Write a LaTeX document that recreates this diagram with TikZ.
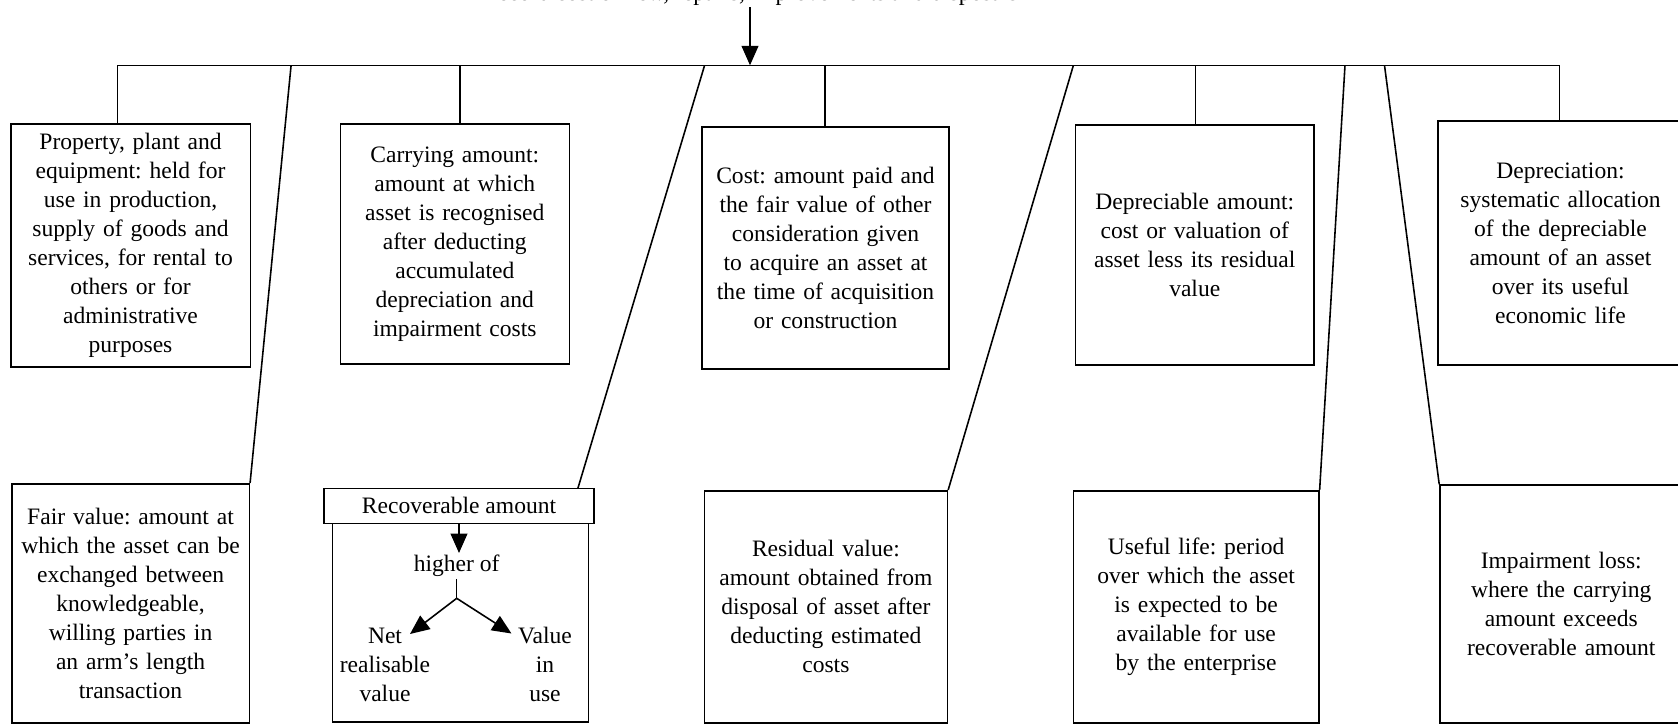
\documentclass[tikz,border=0pt]{standalone}
\usepackage{fontspec}
\setmainfont{Liberation Serif}
\usepackage{tikz}
\usetikzlibrary{arrows.meta, positioning}
\frenchspacing
\def\txt{\fontsize{13.4}{16.5}\selectfont}
\tikzstyle{defn} = [rectangle, draw=black, line width=0.9pt, align=center, inner xsep=0.1cm, inner ysep=0pt, font=\txt]
\tikzstyle{tag} = [rectangle, draw=black, line width=0.9pt, fill=white, inner sep=0pt, font=\txt]
\tikzstyle{word} = [align=center, inner sep=1pt, font=\txt]
\tikzstyle{link} = [line width=0.9pt]
\tikzstyle{down} = [line width=0.9pt, -{Triangle[length=11pt,width=9.5pt]}]

\begin{document}
\begin{tikzpicture}
  \useasboundingbox (0,0) rectangle (33.56,-14.48);

  % heading and the rail under it
  \node (title) [word, anchor=base] at (15.0,0) {Record cost of new, repairs, improvements and disposals};
  \coordinate (railL) at (2.354,-1.306);
  \coordinate (railR) at (31.186,-1.306);
  \draw [link] (railL) -- (railR);
  \draw [down] (title.south) -- (title.south |- railL);

  % upper row
  \node (ppe) [defn, text width=4.59cm, minimum height=4.86cm] at (2.611,-4.91) {Property, plant and\\equipment: held for\\use in production,\\supply of goods and\\services, for rental to\\others or for\\administrative\\purposes};
  \node (carry) [defn, text width=4.38cm, minimum height=4.8cm] at (9.096,-4.88) {Carrying amount:\\amount at which\\asset is recognised\\after deducting\\accumulated\\depreciation and\\impairment costs};
  \node (cost) [defn, text width=4.74cm, minimum height=4.84cm] at (16.51,-4.96) {Cost: amount paid and\\the fair value of other\\consideration given\\to acquire an asset at\\the time of acquisition\\or construction};
  \node (depamt) [defn, text width=4.57cm, minimum height=4.8cm] at (23.895,-4.90) {Depreciable amount:\\cost or valuation of\\asset less its residual\\value};
  \node (deprec) [defn, text width=4.7cm, minimum height=4.88cm] at (31.21,-4.86) {Depreciation:\\systematic allocation\\of the depreciable\\amount of an asset\\over its useful\\economic life};

  \foreach \s/\b in {2.354/ppe, 9.204/carry, 16.50/cost, 23.91/depamt, 31.186/deprec}{
    \coordinate (s\b) at (\s,-1.306);
    \draw [link] (s\b) -- (s\b |- \b.north);
  }

  % lower row
  \node (fair) [defn, text width=4.55cm, minimum height=4.79cm] at (2.611,-12.07) {Fair value: amount at\\which the asset can be\\exchanged between\\knowledgeable,\\willing parties in\\an arm's length\\transaction};
  \node (resid) [defn, text width=4.66cm, minimum height=4.646cm] at (16.518,-12.137) {Residual value:\\amount obtained from\\disposal of asset after\\deducting estimated\\costs};
  \node (useful) [defn, text width=4.71cm, minimum height=4.646cm] at (23.922,-12.137) {Useful life: period\\over which the asset\\is expected to be\\available for use\\by the enterprise};
  \node (impair) [defn, text width=4.65cm, minimum height=4.76cm] at (31.225,-12.08) {Impairment loss:\\where the carrying\\amount exceeds\\recoverable amount};

  % recoverable amount block
  \node (recbox) [defn, minimum width=5.12cm, minimum height=3.974cm] at (9.21,-12.453) {};
  \node (rechead) [tag, minimum width=5.4cm, minimum height=0.70cm] at (9.18,-10.116) {Recoverable amount};
  \node (higher) [word, anchor=base] at (9.134,-11.434) {higher of};
  \coordinate (fork) at (9.134,-11.966);
  \node (nrv) [word, anchor=base] at (7.70,-14.03) {Net\\realisable\\value};
  \node (viu) [word, anchor=base] at (10.9,-14.03) {Value\\in\\use};
  \coordinate (nrvtip) at (8.2,-12.68);
  \coordinate (viutip) at (10.23,-12.67);
  \draw [down] (rechead.south) -- (rechead.south |- higher.north);
  \draw [link] (higher.south) -- (fork);
  \draw [down] (fork) -- (nrvtip);
  \draw [down] (fork) -- (viutip);

  % slanted feeders down to the lower row
  \coordinate (t1) at (5.822,-1.306);
  \coordinate (t2) at (14.092,-1.306);
  \coordinate (t3) at (21.468,-1.306);
  \coordinate (t4) at (26.90,-1.306);
  \coordinate (t5) at (27.69,-1.306);
  \coordinate (recjoin) at (11.558,-9.766);
  \draw [link] (t1) -- (fair.north east);
  \draw [link] (t2) -- (recjoin);
  \draw [link] (t3) -- (resid.north east);
  \draw [link] (t4) -- (useful.north east);
  \draw [link] (t5) -- (impair.north west);

\end{tikzpicture}
\end{document}
